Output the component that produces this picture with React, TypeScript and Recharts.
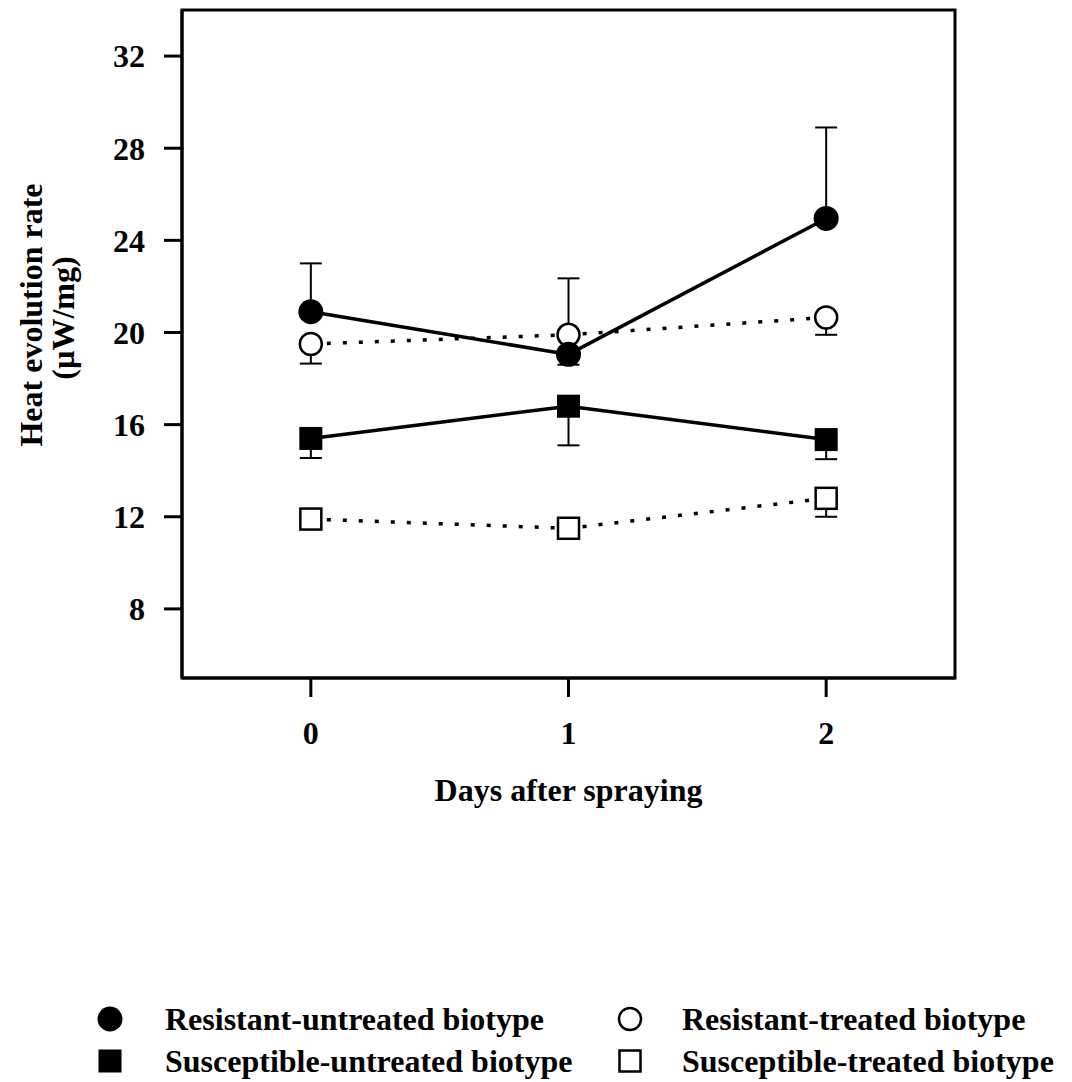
import React from 'react'
import {
  LineChart,
  Line,
  XAxis,
  YAxis,
  ErrorBar,
  ReferenceArea,
} from 'recharts'

// values
const days = [0, 1, 2]
const resUntreated = [20.9, 19.05, 24.95]
const resUntreatedUp = [2.1, 3.3, 3.95]
const resTreated = [19.5, 19.9, 20.65]
const resTreatedDown = [0.85, 1.3, 0.75]
const susUntreated = [15.4, 16.8, 15.35]
const susUntreatedDown = [0.85, 1.7, 0.85]
const susTreated = [11.9, 11.5, 12.8]
const susTreatedDown = [0, 0, 0.8]
const yTicks = [8, 12, 16, 20, 24, 28, 32]
const xTicks = [0, 1, 2]

const data = days.map((d, i) => ({
  day: d,
  ru: resUntreated[i],
  ruErr: [0, resUntreatedUp[i]],
  rt: resTreated[i],
  rtErr: [resTreatedDown[i], 0],
  su: susUntreated[i],
  suErr: [susUntreatedDown[i], 0],
  st: susTreated[i],
  stErr: [susTreatedDown[i], 0],
}))

const FONT = '"Liberation Serif", "Times New Roman", serif'
const tickStyle = { fill: '#000', fontSize: 32, fontWeight: 'bold', fontFamily: FONT }

function Marker({ shape, cx, cy }: { shape: string; cx: number; cy: number }) {
  if (shape === 'filledCircle') return <circle cx={cx} cy={cy} r={12.5} fill="#000" />
  if (shape === 'openCircle')
    return <circle cx={cx} cy={cy} r={11} fill="#fff" stroke="#000" strokeWidth={2.5} />
  if (shape === 'filledSquare')
    return <rect x={cx - 11.5} y={cy - 11.5} width={23} height={23} fill="#000" />
  return (
    <rect x={cx - 10.5} y={cy - 10.5} width={21} height={21} fill="#fff" stroke="#000" strokeWidth={2.5} />
  )
}

const dotFor = (shape: string) => (props: any) => (
  <Marker key={`${shape}-${props.index}`} shape={shape} cx={props.cx} cy={props.cy} />
)

function YLabel() {
  return (
    <g fontFamily={FONT} fontSize={32} fontWeight="bold" fill="#000" textAnchor="middle">
      <text x={42} y={315} transform="rotate(-90 42 315)">Heat evolution rate</text>
      <text x={74} y={318} transform="rotate(-90 74 318)">(µW/mg)</text>
    </g>
  )
}

const legendItems = [
  { name: 'Resistant-untreated biotype', shape: 'filledCircle' },
  { name: 'Resistant-treated biotype', shape: 'openCircle' },
  { name: 'Susceptible-untreated biotype', shape: 'filledSquare' },
  { name: 'Susceptible-treated biotype', shape: 'openSquare' },
]

function ChartLegend() {
  return (
    <svg width={1072} height={120} style={{ position: 'absolute', left: 0, top: 962 }}>
      {legendItems.map((it, i) => {
        const col = i % 2
        const row = Math.floor(i / 2)
        const mx = col === 0 ? 110 : 630
        const tx = col === 0 ? 165 : 682
        const cy = 57 + row * 42
        return (
          <g key={it.name}>
            <Marker shape={it.shape} cx={mx} cy={cy} />
            <text x={tx} y={cy + 11} fontFamily={FONT} fontSize={32} fontWeight="bold" fill="#000">
              {it.name}
            </text>
          </g>
        )
      })}
    </svg>
  )
}

export default function App() {
  return (
    <div style={{ position: 'absolute', left: 0, top: 0, width: 1072, height: 1082, background: '#fff' }}>
      <LineChart
        width={1072}
        height={1082}
        data={data}
        margin={{ top: 10, right: 117, bottom: 264, left: 0 }}
      >
        <XAxis
          dataKey="day"
          type="number"
          domain={[-0.5, 2.5]}
          ticks={xTicks}
          allowDataOverflow
          height={140}
          stroke="#000"
          strokeWidth={3}
          tickSize={19}
          tickMargin={24}
          tick={tickStyle}
          label={{
            value: 'Days after spraying',
            position: 'insideTop',
            offset: 100,
            fill: '#000',
            fontSize: 32,
            fontWeight: 'bold',
            fontFamily: FONT,
          }}
        />
        <YAxis
          type="number"
          domain={[5, 34]}
          ticks={yTicks}
          allowDataOverflow
          width={182}
          stroke="#000"
          strokeWidth={3}
          tickSize={18}
          tickMargin={19}
          tick={tickStyle}
          label={{ content: <YLabel /> }}
        />
        <ReferenceArea x1={-0.5} x2={2.5} y1={5} y2={34} fill="none" stroke="#000" strokeWidth={3} />
        <Line
          dataKey="rt"
          stroke="#000"
          strokeWidth={3.5}
          strokeDasharray="4 12"
          dot={dotFor('openCircle')}
          isAnimationActive={false}
        >
          <ErrorBar dataKey="rtErr" width={11} stroke="#000" strokeWidth={2} direction="y" />
        </Line>
        <Line
          dataKey="st"
          stroke="#000"
          strokeWidth={3.5}
          strokeDasharray="4 12"
          dot={dotFor('openSquare')}
          isAnimationActive={false}
        >
          <ErrorBar dataKey="stErr" width={11} stroke="#000" strokeWidth={2} direction="y" />
        </Line>
        <Line
          dataKey="su"
          stroke="#000"
          strokeWidth={3.5}
          dot={dotFor('filledSquare')}
          isAnimationActive={false}
        >
          <ErrorBar dataKey="suErr" width={11} stroke="#000" strokeWidth={2} direction="y" />
        </Line>
        <Line
          dataKey="ru"
          stroke="#000"
          strokeWidth={3.5}
          dot={dotFor('filledCircle')}
          isAnimationActive={false}
        >
          <ErrorBar dataKey="ruErr" width={11} stroke="#000" strokeWidth={2} direction="y" />
        </Line>
      </LineChart>
      <ChartLegend />
    </div>
  )
}
